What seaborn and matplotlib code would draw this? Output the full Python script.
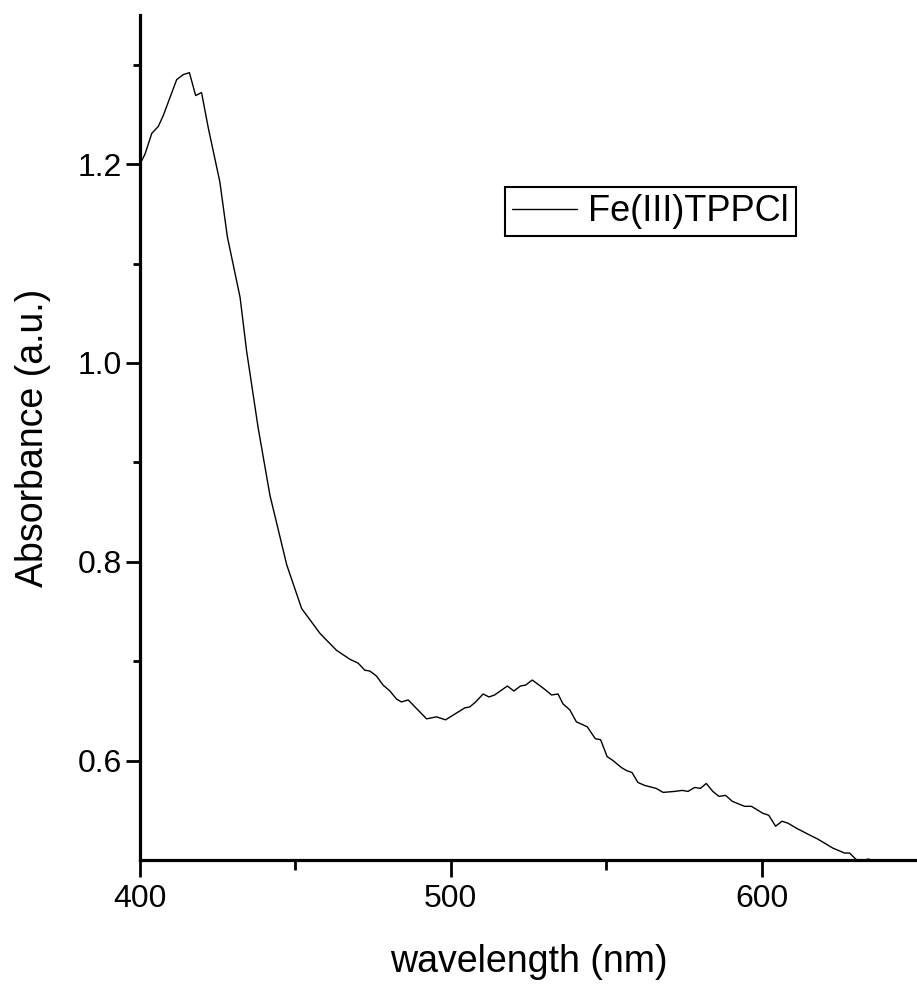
import matplotlib
matplotlib.use("Agg")
import matplotlib.pyplot as plt
from matplotlib import font_manager
from matplotlib.lines import Line2D
import seaborn as sns
import pandas as pd

wavelength = [400.0, 401.6, 403.8, 405.9, 407.5, 411.8, 413.9, 415.9, 417.9, 419.8,
              422.0, 425.7, 428.1, 432.2, 434.3, 438.0, 441.8, 447.2, 452.0, 457.9,
              463.2, 467.5, 470.2, 472.3, 474.0, 476.1, 478.2, 480.4, 482.5, 484.1,
              486.3, 492.2, 495.4, 498.3, 504.5, 506.1, 508.0, 510.4, 512.3, 514.1,
              518.2, 520.3, 522.4, 524.1, 526.2, 528.4, 530.5, 532.4, 534.5, 536.1,
              538.3, 540.4, 543.9, 546.5, 548.2, 550.3, 552.2, 554.9, 556.5, 558.3,
              560.2, 562.4, 566.1, 568.3, 572.0, 574.5, 576.3, 578.5, 580.3, 582.2,
              584.3, 586.3, 588.4, 590.6, 594.5, 596.7, 600.4, 602.3, 604.5, 606.6,
              608.5, 611.2, 614.9, 618.1, 622.9, 626.7, 628.3, 630.6, 633.1, 634.5,
              635.6]
absorbance = [1.200, 1.210, 1.231, 1.238, 1.249, 1.285, 1.290, 1.292, 1.269, 1.272,
              1.236, 1.182, 1.127, 1.066, 1.012, 0.935, 0.867, 0.797, 0.753, 0.728,
              0.711, 0.702, 0.698, 0.691, 0.690, 0.685, 0.676, 0.670, 0.662, 0.659,
              0.661, 0.642, 0.644, 0.641, 0.653, 0.654, 0.659, 0.667, 0.664, 0.666,
              0.675, 0.670, 0.675, 0.676, 0.681, 0.676, 0.671, 0.666, 0.667, 0.657,
              0.651, 0.639, 0.634, 0.622, 0.621, 0.604, 0.600, 0.593, 0.590, 0.588,
              0.578, 0.575, 0.572, 0.568, 0.569, 0.570, 0.569, 0.573, 0.572, 0.577,
              0.569, 0.564, 0.565, 0.559, 0.554, 0.554, 0.547, 0.545, 0.534, 0.539,
              0.537, 0.532, 0.526, 0.521, 0.512, 0.507, 0.507, 0.500, 0.500, 0.501,
              0.498]
series_name = "Fe(III)TPPCl"
x_ticks = [400, 500, 600]
x_minor = [450, 550]
y_ticks = [0.6, 0.8, 1.0, 1.2]
y_minor = [0.7, 0.9, 1.1, 1.3]

sns.set_style("ticks")

def pick_font(names):
    for n in names:
        try:
            font_manager.findfont(font_manager.FontProperties(family=n), fallback_to_default=False)
            return n
        except Exception:
            continue
    return "DejaVu Sans"

narrow = pick_font(["Liberation Sans Narrow", "Arial Narrow", "Liberation Sans"])
regular = pick_font(["Liberation Sans", "Arial"])
plt.rcParams['font.family'] = [regular, 'DejaVu Sans']
plt.rcParams['text.color'] = 'black'
plt.rcParams['axes.labelcolor'] = 'black'
plt.rcParams['xtick.color'] = 'black'
plt.rcParams['ytick.color'] = 'black'
plt.rcParams['axes.edgecolor'] = 'black'

df = pd.DataFrame({"wavelength": wavelength, "absorbance": absorbance, "series": series_name})

fig = plt.figure(figsize=(9.17, 9.89), dpi=100)
ax = fig.add_axes([140/917, 129/989, 777/917, 845/989])
sns.lineplot(data=df, x="wavelength", y="absorbance", hue="series", palette=["black"],
             sort=False, estimator=None, linewidth=1.0, ax=ax, legend=False)

ax.set_xlim(400, 650)
ax.set_ylim(0.5, 1.35)
ax.set_xticks(x_ticks)
ax.set_xticks(x_minor, minor=True)
ax.set_yticks(y_ticks)
ax.set_yticks(y_minor, minor=True)
ax.set_xticklabels([str(v) for v in x_ticks], family=[narrow, 'DejaVu Sans'], fontsize=23)
ax.set_yticklabels([f"{v:.1f}" for v in y_ticks], family=[narrow, 'DejaVu Sans'], fontsize=23)

sns.despine(ax=ax)
for s in ["left", "bottom"]:
    ax.spines[s].set_linewidth(2.3)
    ax.spines[s].set_color("black")
ax.tick_params(axis="x", which="major", direction="out", length=12, width=2.0, pad=5, colors="black")
ax.tick_params(axis="x", which="minor", direction="out", length=7, width=2.0, colors="black")
ax.tick_params(axis="y", which="major", direction="out", length=10, width=2.0, pad=3, colors="black")
ax.tick_params(axis="y", which="minor", direction="out", length=5, width=2.0, colors="black")

ax.set_xlabel("wavelength (nm)", family=[narrow, 'DejaVu Sans'], fontsize=27, labelpad=22, color="black")
ax.set_ylabel("Absorbance (a.u.)", fontsize=27, labelpad=19, color="black")

handle = Line2D([], [], color="black", linewidth=1.0)
leg = fig.legend([handle], [series_name], loc="upper left",
                 bbox_to_anchor=(505/917, 1 - 187/989), bbox_transform=fig.transFigure,
                 borderaxespad=0, fancybox=False, framealpha=1, edgecolor="black",
                 handlelength=1.8, handletextpad=0.3, borderpad=0.2,
                 labelcolor="black",
                 prop={"family": [narrow, 'DejaVu Sans'], "size": 26})
leg.get_frame().set_linewidth(1.5)

fig.savefig("out.png", dpi=100)
